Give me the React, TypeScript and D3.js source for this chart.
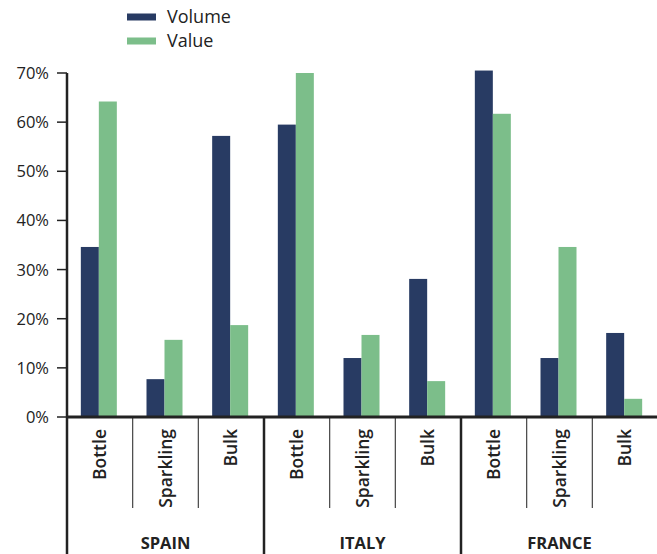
import React, { useRef, useEffect, FC } from 'react';
import * as d3 from 'd3';

// chart data
const countries = ['SPAIN', 'ITALY', 'FRANCE'];
const types = ['Bottle', 'Sparkling', 'Bulk'];
const volume = [34.6, 7.7, 57.2, 59.5, 12.0, 28.1, 70.5, 12.0, 17.1];
const value = [64.2, 15.7, 18.7, 70.0, 16.7, 7.3, 61.7, 34.6, 3.7];
const yTicks = [0, 10, 20, 30, 40, 50, 60, 70];

const NAVY = '#283b63';
const GREEN = '#7cbe8a';
const INK = '#222222';
const FONT = '"Open Sans", Lato, sans-serif';

const W = 657;
const H = 554;

const App: FC = () => {
  const svgRef = useRef<SVGSVGElement | null>(null);

  useEffect(() => {
    const svg = d3.select(svgRef.current);
    svg.selectAll('*').remove();

    const left = 67;
    const right = 658;
    const base = 417;

    const y = d3.scaleLinear().domain([0, 70]).range([base, 73]);

    const cells = countries.flatMap((c) => types.map((t) => `${c}|${t}`));
    const x = d3.scaleBand<string>().domain(cells).range([left, right]);
    const gx = d3.scaleBand<string>().domain(countries).range([left, right]);
    const bw = 18;

    // bars
    const g = svg.append('g');
    cells.forEach((key, i) => {
      const cx = (x(key) ?? 0) + x.bandwidth() / 2;
      g.append('rect')
        .attr('x', cx - bw - 1)
        .attr('y', y(volume[i]))
        .attr('width', bw)
        .attr('height', base - y(volume[i]))
        .attr('fill', NAVY);
      g.append('rect')
        .attr('x', cx - 1)
        .attr('y', y(value[i]))
        .attr('width', bw)
        .attr('height', base - y(value[i]))
        .attr('fill', GREEN);
    });

    // y axis
    svg.append('line')
      .attr('x1', left).attr('x2', left)
      .attr('y1', y(70)).attr('y2', H)
      .attr('stroke', INK).attr('stroke-width', 2.5);

    yTicks.forEach((t) => {
      svg.append('line')
        .attr('x1', left - 10).attr('x2', left)
        .attr('y1', y(t)).attr('y2', y(t))
        .attr('stroke', INK).attr('stroke-width', 1.5);
      svg.append('text')
        .attr('x', 49)
        .attr('y', y(t))
        .attr('dy', '0.36em')
        .attr('text-anchor', 'end')
        .attr('font-family', FONT)
        .attr('font-size', 16.5)
        .attr('fill', INK)
        .text(`${t}%`);
    });

    // sub category dividers and labels
    cells.forEach((key, i) => {
      const x0 = x(key) ?? 0;
      if (i % 3 !== 0) {
        svg.append('line')
          .attr('x1', x0).attr('x2', x0)
          .attr('y1', base).attr('y2', 508)
          .attr('stroke', '#444').attr('stroke-width', 1.2);
      }
      const cx = x0 + x.bandwidth() / 2;
      svg.append('text')
        .attr('transform', `translate(${cx},${base + 12}) rotate(-90)`)
        .attr('dy', '0.36em')
        .attr('text-anchor', 'end')
        .attr('font-family', FONT)
        .attr('font-weight', 600)
        .attr('font-size', 17.5)
        .attr('fill', INK)
        .text(types[i % 3]);
    });

    // group dividers and labels
    countries.forEach((c, i) => {
      const x0 = gx(c) ?? 0;
      if (i > 0) {
        svg.append('line')
          .attr('x1', x0).attr('x2', x0)
          .attr('y1', base).attr('y2', H)
          .attr('stroke', INK).attr('stroke-width', 2.5);
      }
      svg.append('text')
        .attr('x', x0 + gx.bandwidth() / 2)
        .attr('y', 549)
        .attr('text-anchor', 'middle')
        .attr('font-family', FONT)
        .attr('font-weight', 700)
        .attr('font-size', 16.5)
        .attr('fill', INK)
        .text(c);
    });

    // baseline
    svg.append('line')
      .attr('x1', left).attr('x2', W)
      .attr('y1', base).attr('y2', base)
      .attr('stroke', INK).attr('stroke-width', 3);

    // legend
    const legend = [
      { label: 'Volume', color: NAVY },
      { label: 'Value', color: GREEN },
    ];
    legend.forEach((d, i) => {
      const ly = 17 + i * 24;
      svg.append('rect')
        .attr('x', 127).attr('y', ly - 3.5)
        .attr('width', 29).attr('height', 7)
        .attr('fill', d.color);
      svg.append('text')
        .attr('x', 167).attr('y', ly)
        .attr('dy', '0.36em')
        .attr('font-family', FONT)
        .attr('font-size', 18)
        .attr('fill', INK)
        .text(d.label);
    });
  }, []);

  return (
    <div style={{ position: 'absolute', left: 0, top: 0, width: W, height: H, background: '#fff' }}>
      <svg ref={svgRef} width={W} height={H} style={{ display: 'block' }}></svg>
    </div>
  );
};

export default App;
